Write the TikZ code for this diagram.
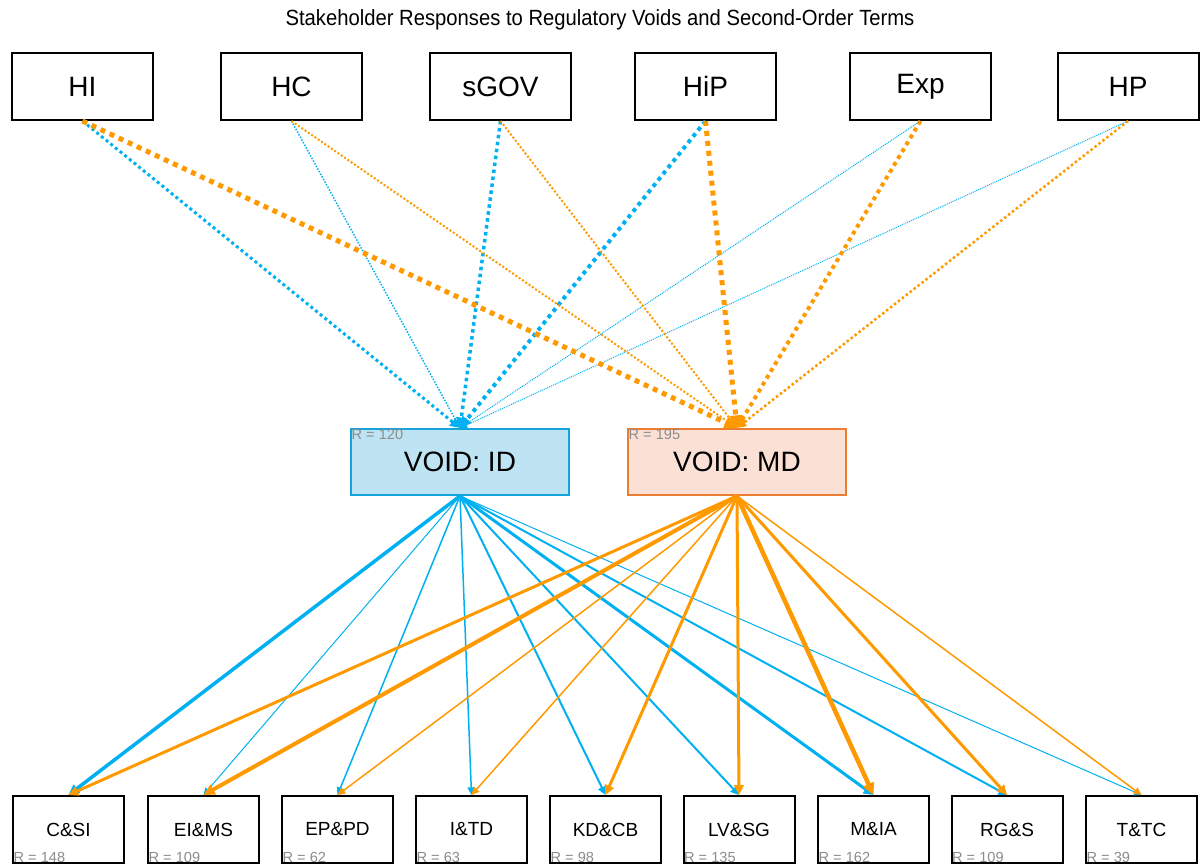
\documentclass[tikz,border=0pt]{standalone}
\usepackage{fontspec}
\setmainfont{Liberation Sans}
\newfontfamily\titlefont[FakeStretch=0.92]{Liberation Sans}
\usetikzlibrary{arrows.meta}
\definecolor{cblue}{HTML}{00B0F0}
\definecolor{corange}{HTML}{FF9900}
\definecolor{idfill}{HTML}{BEE3F3}
\definecolor{idedge}{HTML}{14A3DB}
\definecolor{mdfill}{HTML}{FBE0D5}
\definecolor{mdedge}{HTML}{ED7D31}
\definecolor{rgray}{HTML}{8C8C8C}
\begin{document}
\begin{tikzpicture}[
    x=0.5pt, y=-0.5pt,
    actor/.style={draw, line width=1pt, fill=white, minimum width=70.5pt, minimum height=33.5pt,
      inner sep=0pt, font=\fontsize{14}{16}\selectfont},
    void/.style={draw, line width=1pt, minimum width=109pt, minimum height=33pt,
      inner sep=0pt, font=\fontsize{14}{16}\selectfont},
    term/.style={draw, line width=1pt, fill=white, minimum width=55.5pt, minimum height=33.5pt,
      inner sep=0pt, font=\fontsize{9.5}{11}\selectfont},
    rlab/.style={text=rgray, inner sep=0.6pt, font=\fontsize{7.3}{8}\selectfont},
    tip/.style={-{Triangle[length=2.8pt 1.4, width=2.6pt 1.4]}},
    dots/.style={tip, line width=#1, dash pattern=on #1 off #1},
    solid/.style={tip, line width=#1}
  ]
  \useasboundingbox (0,0) rectangle (1200,866);
  \node (title) at (600,20) {\titlefont\fontsize{11}{13}\selectfont Stakeholder Responses to Regulatory Voids and Second-Order Terms};

  % stakeholders
  \node[actor] (HI)   at (82.5,86.5)  {HI};
  \node[actor] (HC)   at (291.5,86.5) {HC};
  \node[actor] (sGOV) at (500.5,86.5) {sGOV};
  \node[actor] (HiP)  at (705.5,86.5) {HiP};
  \node[actor] (Exp)  at (920.5,86.5) {Exp};
  \node[actor] (HP)   at (1128,86.5)  {HP};

  % voids
  \node[void, fill=idfill, draw=idedge] (ID) at (460,462) {VOID: ID};
  \node[void, fill=mdfill, draw=mdedge] (MD) at (737,462) {VOID: MD};
  \node[rlab, anchor=north west] at (ID.north west) {R = 120};
  \node[rlab, anchor=north west] at (MD.north west) {R = 195};

  % second-order terms
  \node[term] (CSI)  at (68.5,829.5)  {C\&SI};
  \node[term] (EIMS) at (203.5,829.5) {EI\&MS};
  \node[term] (EPPD) at (337.5,829.5) {EP\&PD};
  \node[term] (ITD)  at (471.5,829.5) {I\&TD};
  \node[term] (KDCB) at (605.5,829.5) {KD\&CB};
  \node[term] (LVSG) at (739,829.5)   {LV\&SG};
  \node[term] (MIA)  at (873.5,829.5) {M\&IA};
  \node[term] (RGS)  at (1007,829.5)  {RG\&S};
  \node[term] (TTC)  at (1141.5,829.5) {T\&TC};
  \node[rlab, anchor=south west] at (CSI.south west)  {R = 148};
  \node[rlab, anchor=south west] at (EIMS.south west) {R = 109};
  \node[rlab, anchor=south west] at (EPPD.south west) {R = 62};
  \node[rlab, anchor=south west] at (ITD.south west)  {R = 63};
  \node[rlab, anchor=south west] at (KDCB.south west) {R = 98};
  \node[rlab, anchor=south west] at (LVSG.south west) {R = 135};
  \node[rlab, anchor=south west] at (MIA.south west)  {R = 162};
  \node[rlab, anchor=south west] at (RGS.south west)  {R = 109};
  \node[rlab, anchor=south west] at (TTC.south west)  {R = 39};

  % stakeholders -> voids
  \draw[cblue, dots=1.5pt] (HI.south) -- (ID.north);
  \draw[cblue, dots=0.75pt] (HC.south) -- (ID.north);
  \draw[cblue, dots=1.75pt] (sGOV.south) -- (ID.north);
  \draw[cblue, dots=2pt] (HiP.south) -- (ID.north);
  \draw[cblue, dots=0.5pt] (Exp.south) -- (ID.north);
  \draw[cblue, dots=0.5pt] (HP.south) -- (ID.north);
  \draw[corange, dots=2.5pt] (HI.south) -- (MD.north);
  \draw[corange, dots=1pt] (HC.south) -- (MD.north);
  \draw[corange, dots=1pt] (sGOV.south) -- (MD.north);
  \draw[corange, dots=2.5pt] (HiP.south) -- (MD.north);
  \draw[corange, dots=2pt] (Exp.south) -- (MD.north);
  \draw[corange, dots=1.25pt] (HP.south) -- (MD.north);

  % voids -> terms
  \draw[cblue, solid=1.75pt] (ID.south) -- (CSI.north);
  \draw[cblue, solid=0.5pt] (ID.south) -- (EIMS.north);
  \draw[cblue, solid=0.75pt] (ID.south) -- (EPPD.north);
  \draw[cblue, solid=0.75pt] (ID.south) -- (ITD.north);
  \draw[cblue, solid=1pt] (ID.south) -- (KDCB.north);
  \draw[cblue, solid=1pt] (ID.south) -- (LVSG.north);
  \draw[cblue, solid=1.5pt] (ID.south) -- (MIA.north);
  \draw[cblue, solid=1pt] (ID.south) -- (RGS.north);
  \draw[cblue, solid=0.5pt] (ID.south) -- (TTC.north);
  \draw[corange, solid=1.5pt] (MD.south) -- (CSI.north);
  \draw[corange, solid=2pt] (MD.south) -- (EIMS.north);
  \draw[corange, solid=0.75pt] (MD.south) -- (EPPD.north);
  \draw[corange, solid=0.75pt] (MD.south) -- (ITD.north);
  \draw[corange, solid=1.5pt] (MD.south) -- (KDCB.north);
  \draw[corange, solid=1.5pt] (MD.south) -- (LVSG.north);
  \draw[corange, solid=2.25pt] (MD.south) -- (MIA.north);
  \draw[corange, solid=1.5pt] (MD.south) -- (RGS.north);
  \draw[corange, solid=0.75pt] (MD.south) -- (TTC.north);
\end{tikzpicture}
\end{document}
